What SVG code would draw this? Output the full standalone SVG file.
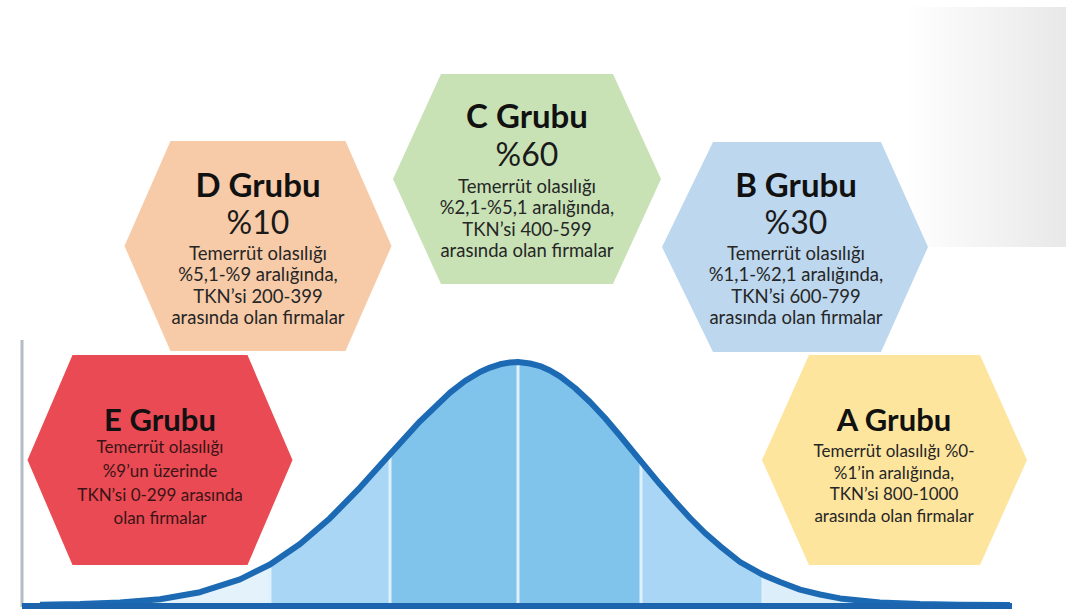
<svg xmlns="http://www.w3.org/2000/svg" width="1066" height="610" viewBox="0 0 1066 610">
  <defs>
    <style>
      .title { font-family: Lato, "Liberation Sans", sans-serif; font-weight: bold; fill: #111; text-anchor: middle; }
      .pct { font-family: Lato, "Liberation Sans", sans-serif; font-size: 32px; fill: #1a1a1a; text-anchor: middle; }
      .desc { font-family: Lato, "Liberation Sans", sans-serif; fill: #262626; text-anchor: middle; }
      .big .title { font-size: 33px; }
      .big .desc { font-size: 18.5px; }
      .small .title { font-size: 31px; }
      .small .desc { font-size: 17px; }
      #node-e .desc { fill: #3a1416; }
      .divider { stroke: #DDF0FC; stroke-width: 3; }
    </style>
    <linearGradient id="fade" x1="0" y1="0" x2="1" y2="0">
      <stop offset="0" stop-color="#ffffff"/>
      <stop offset="1" stop-color="#e8e8e8"/>
    </linearGradient>
    <clipPath id="underCurve">
      <path d="M22,605 L40,604.7 L80,604.1 L120,602.6 L160,599.2 L200,592.2 L240,579.4 L270,564.5 L300,544.1 L330,518.2 L360,487.6 L390,454.2 L420,421.3 L450,392.6 L465,381 L480,372 L490,367.6 L500,364.3 L510,362.5 L518,362 L530,363.5 L540,366.1 L550,370.5 L560,376.4 L575,388 L590,402 L605,418 L620,435.7 L641,461.3 L660,484.3 L675,501.5 L690,518 L705,533 L720,546.1 L740,562 L763,574.8 L780,582 L800,589.6 L820,594.5 L840,598.4 L880,602.4 L920,604.1 L960,604.7 L1010,605 Z"/>
    </clipPath>
  </defs>

  <rect x="0" y="0" width="1066" height="610" fill="#ffffff"/>
  <rect x="905" y="7" width="161" height="240" fill="url(#fade)"/>

  <g id="chart">
    <g clip-path="url(#underCurve)">
      <rect x="22" y="340" width="248" height="270" fill="#E4F2FC"/>
      <rect x="270" y="340" width="120" height="270" fill="#A9D6F4"/>
      <rect x="390" y="340" width="251" height="270" fill="#80C4EC"/>
      <rect x="641" y="340" width="122" height="270" fill="#A9D6F4"/>
      <rect x="763" y="340" width="250" height="270" fill="#DCEEFA"/>
      <line class="divider" x1="270" y1="340" x2="270" y2="610"/>
      <line class="divider" x1="390" y1="340" x2="390" y2="610"/>
      <line class="divider" x1="518" y1="340" x2="518" y2="610"/>
      <line class="divider" x1="641" y1="340" x2="641" y2="610"/>
      <line class="divider" x1="763" y1="340" x2="763" y2="610"/>
    </g>
    <line x1="22" y1="340" x2="22" y2="607" stroke="#B4BCC4" stroke-width="3"/>
    <path d="M40,604.7 L80,604.1 L120,602.6 L160,599.2 L200,592.2 L240,579.4 L270,564.5 L300,544.1 L330,518.2 L360,487.6 L390,454.2 L420,421.3 L450,392.6 L465,381 L480,372 L490,367.6 L500,364.3 L510,362.5 L518,362 L530,363.5 L540,366.1 L550,370.5 L560,376.4 L575,388 L590,402 L605,418 L620,435.7 L641,461.3 L660,484.3 L675,501.5 L690,518 L705,533 L720,546.1 L740,562 L763,574.8 L780,582 L800,589.6 L820,594.5 L840,598.4 L880,602.4 L920,604.1 L960,604.7 L1010,605" fill="none" stroke="#1C6AB4" stroke-width="6" stroke-linejoin="round"/>
    <line x1="22" y1="606" x2="1012" y2="606" stroke="#1C64AE" stroke-width="6"/>
  </g>

  <g id="node-e" class="small">
    <polygon points="27.5,460 72.5,355 247.5,355 292.5,460 247.5,565 72.5,565" fill="#EA4A53"/>
    <text class="title" x="160" y="431">E Grubu</text>
    <text class="desc" x="160" y="453">Temerrüt olasılığı</text>
    <text class="desc" x="160" y="477">%9’un üzerinde</text>
    <text class="desc" x="160" y="501">TKN’si 0-299 arasında</text>
    <text class="desc" x="160" y="524">olan firmalar</text>
  </g>

  <g id="node-d" class="big">
    <polygon points="124.5,246 170.5,141 345.5,141 391.5,246 345.5,351 170.5,351" fill="#F7CBA8"/>
    <text class="title" x="258" y="197">D Grubu</text>
    <text class="pct" x="258" y="234">%10</text>
    <text class="desc" x="258" y="260">Temerrüt olasılığı</text>
    <text class="desc" x="258" y="281">%5,1-%9 aralığında,</text>
    <text class="desc" x="258" y="303">TKN’si 200-399</text>
    <text class="desc" x="258" y="324">arasında olan firmalar</text>
  </g>

  <g id="node-c" class="big">
    <polygon points="393,179 441,74 613,74 661,179 613,284 441,284" fill="#C8E2B6"/>
    <text class="title" x="527" y="128">C Grubu</text>
    <text class="pct" x="527" y="166">%60</text>
    <text class="desc" x="527" y="193">Temerrüt olasılığı</text>
    <text class="desc" x="527" y="214">%2,1-%5,1 aralığında,</text>
    <text class="desc" x="527" y="236">TKN’si 400-599</text>
    <text class="desc" x="527" y="257">arasında olan firmalar</text>
  </g>

  <g id="node-b" class="big">
    <polygon points="662,247 713,142 881,142 928,247 881,352 713,352" fill="#BDD7EE"/>
    <text class="title" x="796" y="197">B Grubu</text>
    <text class="pct" x="796" y="234">%30</text>
    <text class="desc" x="796" y="260">Temerrüt olasılığı</text>
    <text class="desc" x="796" y="281">%1,1-%2,1 aralığında,</text>
    <text class="desc" x="796" y="303">TKN’si 600-799</text>
    <text class="desc" x="796" y="324">arasında olan firmalar</text>
  </g>

  <g id="node-a" class="small">
    <polygon points="762,460 809,355 980,355 1027,460 980,565 809,565" fill="#FDE59E"/>
    <text class="title" x="894" y="431">A Grubu</text>
    <text class="desc" x="894" y="457">Temerrüt olasılığı %0-</text>
    <text class="desc" x="894" y="479">%1’in aralığında,</text>
    <text class="desc" x="894" y="500">TKN’si 800-1000</text>
    <text class="desc" x="894" y="522">arasında olan firmalar</text>
  </g>
</svg>
